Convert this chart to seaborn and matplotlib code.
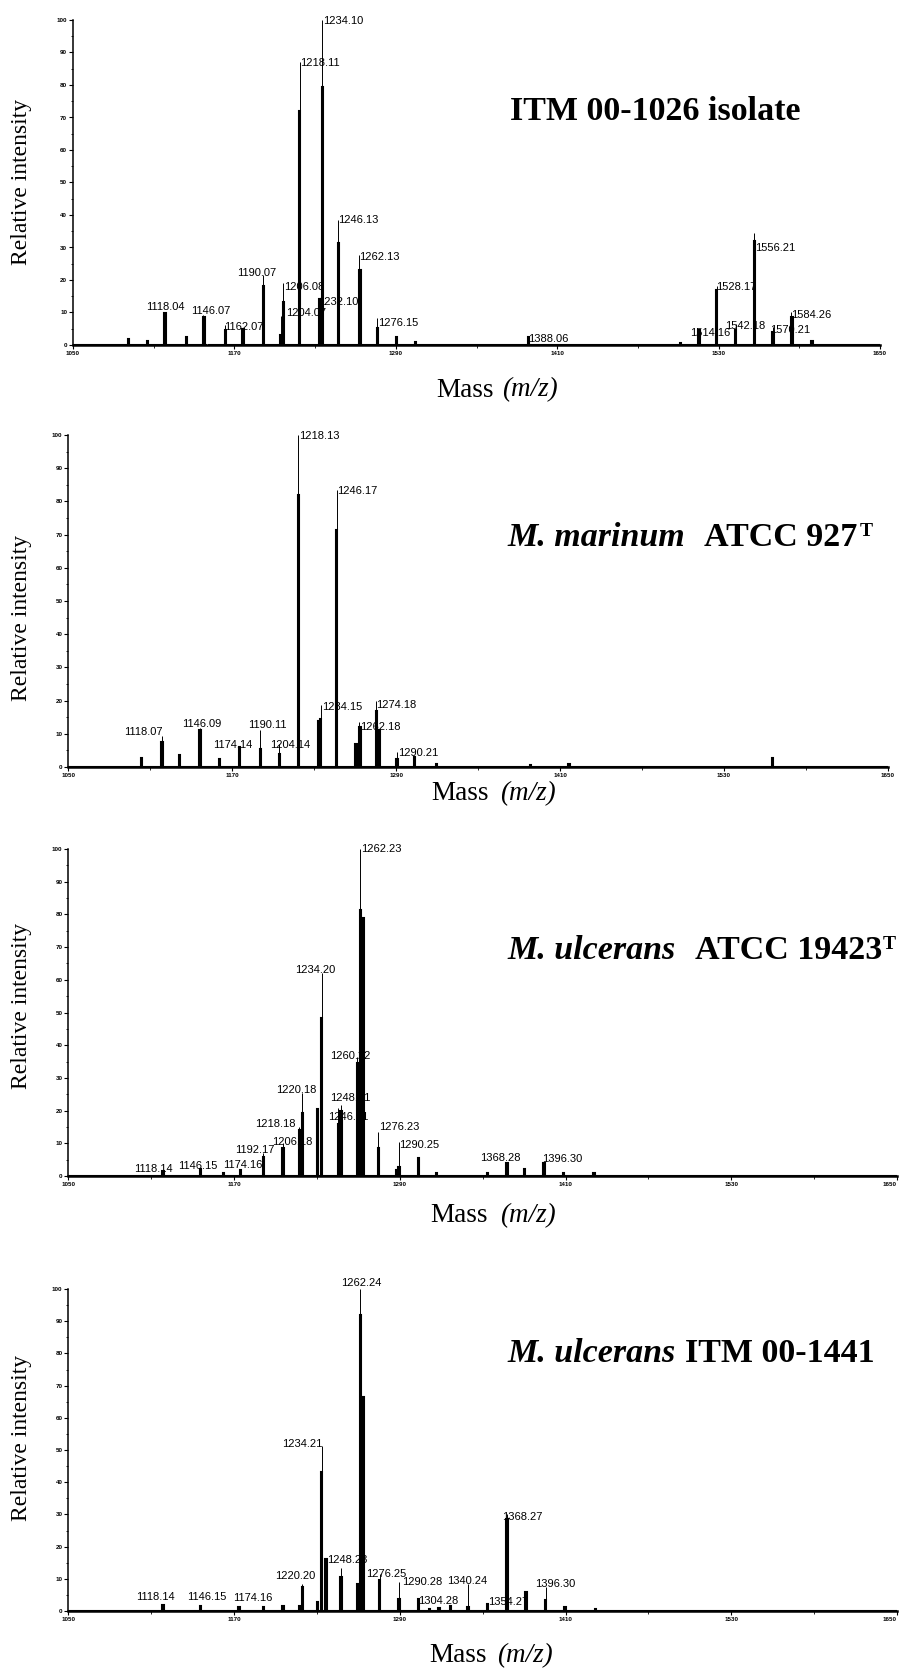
import numpy as np
import pandas as pd
import seaborn as sns
import matplotlib
matplotlib.use("Agg")
import matplotlib.pyplot as plt
from matplotlib.ticker import FixedLocator, MultipleLocator

# ---- peaks: m/z, apex (%), body of the peak (%) ----
itm1026_mz = [1091, 1105, 1118.4, 1134.5, 1147, 1163, 1176.6, 1191, 1204.6, 1206.4,
              1218.8, 1233, 1235, 1247, 1263, 1276, 1290, 1304, 1388, 1501,
              1515.4, 1528.5, 1542.6, 1556.6, 1570.7, 1584, 1599.7]
itm1026_apex = [1.7, 1.2, 10, 2.6, 9.2, 6.2, 4.8, 21.5, 9, 19,
                87, 14, 100, 38.5, 27.7, 8.2, 2.6, 0.8, 2.5, 0.6,
                4.6, 18, 6.5, 34.4, 5.5, 10, 1.3]
itm1026_body = [1.7, 1.2, 9.7, 2.6, 8.5, 4.5, 4.8, 18, 3, 13.3,
                72, 14, 79.5, 31.3, 23, 5.1, 2.6, 0.8, 2.5, 0.6,
                4.6, 17, 4.6, 32, 4.1, 8.7, 1.3]
itm1026_text = ["1118.04", "1146.07", "1162.07", "1190.07", "1206.08", "1204.07",
                "1218.11", "1234.10", "1232.10", "1246.13", "1262.13", "1276.15",
                "1388.06", "1514.16", "1528.17", "1542.18", "1556.21", "1570.21",
                "1584.26"]

marinum_mz = [1103.7, 1118.8, 1131.8, 1146.4, 1160, 1175.7, 1190.3, 1204.5, 1218.4, 1233,
              1234.8, 1246.5, 1260.6, 1263, 1275, 1277.7, 1290.4, 1303, 1319.5, 1388,
              1416.8, 1565.6]
marinum_apex = [2.8, 9.2, 3.7, 11.6, 2.5, 6, 11, 7, 100, 14,
                18.6, 83.4, 7, 13.6, 20, 11, 4.5, 3, 0.8, 0.7,
                0.8, 2.8]
marinum_body = [2.8, 7.5, 3.7, 11, 2.5, 6, 5.5, 4, 82, 14,
                14.6, 71.4, 7, 12, 17, 11, 2.5, 3, 0.8, 0.7,
                0.8, 2.8]
marinum_text = ["1118.07", "1146.09", "1174.14", "1190.11", "1204.14", "1218.13",
                "1234.15", "1246.17", "1262.18", "1274.18", "1290.21"]

ulc19423_mz = [1118, 1145.4, 1162, 1174.3, 1191.2, 1205.3, 1217, 1219, 1230, 1233.5,
               1245.5, 1247.3, 1259.3, 1261.2, 1263.2, 1274.5, 1287.5, 1289.3, 1303, 1316.8,
               1353, 1367, 1380.7, 1394.5, 1408.5, 1430]
ulc19423_apex = [1.6, 2, 0.8, 1.8, 7, 10, 15, 25.3, 20.4, 62,
                 20.7, 21.7, 36.5, 100, 79, 13.6, 1.8, 10.5, 5.4, 0.8,
                 0.8, 4, 2, 3.9, 1, 1]
ulc19423_body = [1.6, 2, 0.8, 1.8, 5.9, 8.5, 14, 19.2, 20.4, 48.3,
                 16, 20, 34.5, 81.4, 79, 8.5, 1.8, 2.9, 5.4, 0.8,
                 0.8, 4, 2, 3.9, 1, 1]
ulc19423_text = ["1118.14", "1146.15", "1174.16", "1192.17", "1206.18", "1218.18",
                 "1220.18", "1234.20", "1246.21", "1248.21", "1260.22", "1262.23",
                 "1276.23", "1290.25", "1368.28", "1396.30"]

ulc1441_mz = [1118, 1145.4, 1173.8, 1191, 1205, 1217.5, 1219.4, 1230.7, 1233.5, 1236,
              1247.2, 1259.3, 1261.2, 1263.2, 1275.7, 1289.5, 1303.5, 1311.9, 1318, 1326,
              1339.7, 1353.4, 1367.4, 1381.4, 1395.7, 1409, 1431.4]
ulc1441_apex = [1.8, 1.6, 1.2, 1.2, 1.6, 1.6, 8.5, 2.8, 51.2, 16.3,
                13.2, 8.5, 100, 66.6, 11.6, 9, 3.8, 0.7, 0.9, 1.5,
                8.5, 2.3, 30, 5.9, 7.5, 1.2, 0.7]
ulc1441_body = [1.8, 1.6, 1.2, 1.2, 1.6, 1.6, 7.5, 2.8, 43.3, 16.3,
                10.6, 8.5, 92, 66.6, 9.5, 3.8, 3.8, 0.7, 0.9, 1.5,
                1.2, 2.3, 28.7, 5.9, 3.3, 1.2, 0.7]
ulc1441_text = ["1118.14", "1146.15", "1174.16", "1220.20", "1234.21", "1248.23",
                "1262.24", "1276.25", "1290.28", "1304.28", "1340.24", "1354.27",
                "1368.27", "1396.30"]

x_ticks = [1050, 1170, 1290, 1410, 1530, 1650]

# ---- layout: where each peak label sits (left m/z, baseline %) ----
itm1026_at = [(1104.0, 10.8), (1137.5, 9.4), (1162.0, 4.6), (1171.7, 21.2), (1206.9, 17.0),
              (1208.4, 8.9), (1218.8, 86.0), (1235.6, 98.8), (1232.4, 12.3), (1247.0, 37.4),
              (1263.0, 26.2), (1277.0, 5.8), (1388.0, 0.8), (1508.7, 2.8), (1528.0, 17.0),
              (1534.8, 5.0), (1557.0, 29.0), (1568.0, 3.6), (1584.0, 8.2)]
marinum_at = [(1090.8, 9.5), (1133.0, 12.1), (1155.7, 5.7), (1181.8, 11.6), (1197.7, 5.7),
              (1219.1, 98.7), (1235.5, 17.1), (1247.0, 82.2), (1263.5, 11.1), (1275.3, 17.9),
              (1291.6, 3.2)]
ulc19423_at = [(1097.8, 1.3), (1129.7, 2.0), (1161.8, 2.3), (1170.7, 6.9), (1197.3, 9.5),
               (1185.2, 15.1), (1200.4, 25.5), (1214.2, 62.2), (1238.3, 17.1), (1239.5, 23.0),
               (1239.5, 35.7), (1262.0, 99.0), (1275.2, 14.1), (1289.7, 8.7), (1348.1, 4.7),
               (1392.8, 4.4)]
ulc1441_at = [(1098.8, 3.3), (1135.7, 3.5), (1169.5, 3.0), (1199.7, 9.8), (1204.5, 51.0),
              (1237.6, 14.9), (1247.2, 100.8), (1265.6, 10.6), (1291.4, 8.0), (1303.4, 2.3),
              (1324.0, 8.5), (1354.1, 1.8), (1364.3, 28.4), (1388.0, 7.5)]

W, H = 900, 1669

panels = [
    dict(mz=itm1026_mz, apex=itm1026_apex, body=itm1026_body, text=itm1026_text, at=itm1026_at,
         box=(73, 20, 880, 345), ylab=182,
         title=[("ITM 00-1026 isolate", 510, "normal", 24.5, 119.5)],
         mass=(436.7, 501.7, 396.5)),
    dict(mz=marinum_mz, apex=marinum_apex, body=marinum_body, text=marinum_text, at=marinum_at,
         box=(68.3, 435, 888, 767), ylab=618,
         title=[("M. marinum", 507, "italic", 24.5, 546), ("ATCC 927", 704, "normal", 24.5, 546),
                ("T", 860, "normal", 14, 536)],
         mass=(431.7, 500, 800)),
    dict(mz=ulc19423_mz, apex=ulc19423_apex, body=ulc19423_body, text=ulc19423_text, at=ulc19423_at,
         box=(68.3, 849, 897, 1176), ylab=1006,
         title=[("M. ulcerans", 507, "italic", 24.5, 959), ("ATCC 19423", 695, "normal", 24.5, 959),
                ("T", 883, "normal", 14, 949)],
         mass=(430.7, 500, 1221.7)),
    dict(mz=ulc1441_mz, apex=ulc1441_apex, body=ulc1441_body, text=ulc1441_text, at=ulc1441_at,
         box=(68.3, 1289, 897, 1611), ylab=1438,
         title=[("M. ulcerans", 507, "italic", 24.5, 1361.5), ("ITM 00-1441", 685, "normal", 24.5, 1361.5)],
         mass=(429.3, 497.3, 1661.7)),
]

sns.set_style("ticks")
plt.rcParams["font.family"] = ["Liberation Sans", "DejaVu Sans"]
plt.rcParams.update({"text.color": "black", "axes.edgecolor": "black",
                     "xtick.color": "black", "ytick.color": "black",
                     "axes.labelcolor": "black"})

fig = plt.figure(figsize=(W / 100, H / 100), dpi=100)
serif = "Liberation Serif"

for p in panels:
    x0, y0, x1, y1 = p["box"]
    ax = fig.add_axes([x0 / W, 1 - y1 / H, (x1 - x0) / W, (y1 - y0) / H])
    df = pd.DataFrame({"mz": p["mz"], "apex": p["apex"], "body": p["body"]})

    # profile body of each peak as a narrow weighted histogram bar
    sns.histplot(data=df, x="mz", weights="body", binwidth=1, binrange=(1050, 1650),
                 color="black", edgecolor="black", linewidth=1.5, alpha=1, ax=ax, zorder=2)
    # thin centroid line up to the apex
    ax.vlines(df["mz"], 0, df["apex"], color="black", lw=0.7, zorder=2)

    for txt, (lx, ly) in zip(p["text"], p["at"]):
        ax.text(lx, ly, txt, ha="left", va="baseline", fontsize=8,
                family="Liberation Sans", zorder=0.5)

    ax.set_xlim(1050, 1650)
    ax.set_ylim(0, 100)
    ax.set_xlabel("")
    ax.set_ylabel("")
    ax.xaxis.set_major_locator(FixedLocator(x_ticks))
    ax.xaxis.set_minor_locator(FixedLocator(np.arange(1110, 1650, 120)))
    ax.yaxis.set_major_locator(MultipleLocator(10))
    ax.yaxis.set_minor_locator(MultipleLocator(5))
    ax.tick_params(axis="both", which="major", length=3, width=0.8, pad=1.2,
                   labelsize=4.5)
    ax.tick_params(axis="both", which="minor", length=1.8, width=0.6)
    fig.canvas.draw()
    xlabs = ax.get_xticklabels()
    for lab in xlabs + ax.get_yticklabels():
        lab.set_fontweight("bold")
    if x1 > 890:
        xlabs[-1].set_horizontalalignment("right")
    sns.despine(ax=ax)
    ax.spines["bottom"].set_linewidth(1.8)
    ax.spines["left"].set_linewidth(1.1)

    fig.text(22 / W, 1 - p["ylab"] / H, "Relative intensity", rotation=90,
             ha="center", va="center", fontsize=17, family=serif)
    mx1, mx2, my = p["mass"]
    fig.text(mx1 / W, 1 - my / H, "Mass", ha="left", va="baseline", fontsize=19.5, family=serif)
    fig.text(mx2 / W, 1 - my / H, "(m/z)", ha="left", va="baseline", fontsize=19.5,
             family=serif, style="italic")
    for txt, tx, st, fs, ty in p["title"]:
        fig.text(tx / W, 1 - ty / H, txt, ha="left", va="baseline", fontsize=fs,
                 family=serif, weight="bold", style=st)

fig.savefig("out.png", dpi=100, facecolor="white")
